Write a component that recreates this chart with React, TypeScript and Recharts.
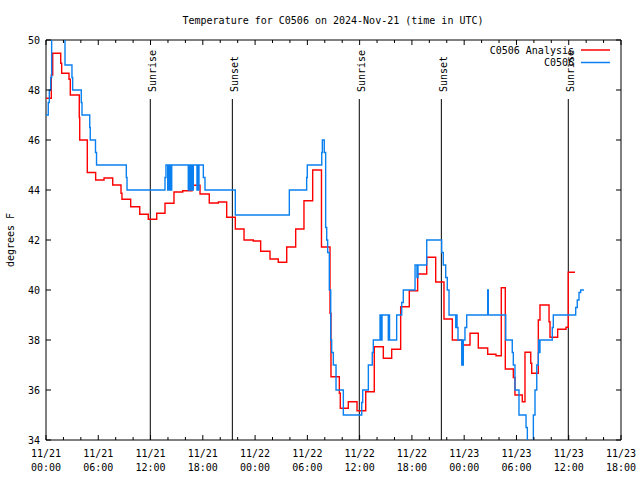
import React from 'react';
import { LineChart, Line, XAxis, YAxis, ReferenceLine, ReferenceArea, Legend } from 'recharts';

const FONT = "'DejaVu Sans Mono', 'Liberation Mono', monospace";

// Hours since 2024-11-21 00:00 UTC
const redHours = [0, 0.61, 0.77, 1.69, 1.8, 2.64, 2.79, 3.82, 3.87, 4.74, 5.7, 6.66, 7.66, 8.61, 8.72, 9.72, 10.76, 11.74, 12.71, 13.66, 14.69, 15.69, 16.76, 17.68, 18.74, 19.78, 20.74, 21.73, 22.73, 23.79, 24.64, 25.71, 26.66, 27.63, 28.66, 29.61, 30.61, 31.62, 32.6, 32.71, 33.67, 33.78, 34.7, 35.7, 36.7, 37.68, 38.72, 39.68, 40.71, 41.7, 42.66, 43.7, 44.73, 45.68, 46.64, 47.72, 48.67, 49.62, 50.7, 51.65, 52.26, 52.72, 53.64, 53.83, 54.67, 54.98, 55.64, 55.75, 56.51, 56.7, 57.74, 57.85, 58.73, 59.69, 59.95, 60.72];
const redTemps = [47.67, 48.6, 49.47, 49.07, 48.67, 48.43, 47.8, 46.9, 46.0, 44.7, 44.4, 44.48, 44.2, 43.87, 43.63, 43.33, 43.03, 42.83, 43.07, 43.47, 43.92, 43.97, 44.19, 43.84, 43.48, 43.52, 42.91, 42.44, 42.0, 41.96, 41.55, 41.24, 41.11, 41.72, 42.44, 43.57, 44.8, 41.72, 39.07, 36.53, 35.87, 35.27, 35.53, 35.17, 35.93, 37.73, 37.27, 37.63, 39.33, 39.97, 40.64, 41.31, 40.32, 38.84, 38.0, 37.8, 38.27, 37.68, 37.43, 37.37, 40.09, 36.84, 36.5, 35.8, 35.53, 37.51, 37.07, 36.67, 38.8, 39.4, 38.73, 38.11, 38.43, 38.51, 40.71, 40.71];

const blueHours = [0, 0.26, 0.38, 0.54, 0.65, 2.18, 2.98, 3.06, 4.05, 4.13, 5.02, 5.08, 5.68, 5.8, 9.22, 9.3, 13.66, 13.77, 13.97, 14.04, 14.15, 14.23, 14.35, 14.43, 16.33, 16.41, 16.53, 16.61, 16.68, 16.76, 16.84, 16.91, 17.33, 17.41, 17.48, 17.56, 18.06, 18.25, 21.73, 27.93, 29.92, 29.99, 31.65, 31.72, 31.94, 32.1, 32.22, 32.33, 32.52, 32.68, 32.79, 32.98, 33.29, 34.13, 36.24, 36.35, 37.0, 37.45, 37.57, 38.34, 38.45, 38.57, 39.29, 39.37, 39.43, 40.25, 40.83, 41.01, 42.36, 42.58, 42.7, 43.7, 45.42, 45.6, 45.88, 46.06, 46.26, 47.03, 47.1, 47.18, 47.29, 47.72, 47.79, 47.83, 47.9, 48.09, 48.29, 50.7, 50.77, 52.77, 53.52, 53.64, 53.83, 54.29, 55.1, 55.25, 55.94, 56.13, 56.33, 56.51, 56.55, 56.61, 56.7, 58.11, 58.23, 60.8, 60.98, 61.18, 61.37, 61.75];
const blueTemps = [47.0, 47.5, 48.0, 48.5, 50.5, 49.0, 48.5, 48.0, 47.5, 47.0, 46.5, 46.0, 45.5, 45.0, 44.5, 44.0, 44.5, 45.0, 44.0, 45.0, 44.0, 45.0, 44.0, 45.0, 44.0, 45.0, 44.0, 45.0, 44.0, 45.0, 44.0, 45.0, 44.0, 45.0, 44.0, 45.0, 44.5, 44.0, 43.0, 44.0, 44.5, 45.0, 45.5, 46.0, 45.5, 42.5, 42.0, 41.5, 40.0, 38.0, 37.5, 37.0, 36.0, 35.0, 35.5, 36.0, 37.0, 37.5, 38.0, 39.0, 38.0, 39.0, 38.0, 39.0, 38.0, 39.0, 39.5, 40.0, 41.0, 40.5, 41.0, 42.0, 41.5, 41.0, 40.5, 40.0, 39.0, 38.5, 39.0, 38.5, 38.0, 37.0, 38.0, 37.0, 38.0, 38.5, 39.0, 40.0, 39.0, 38.0, 37.5, 37.0, 36.0, 35.0, 34.5, 33.5, 35.0, 36.0, 37.0, 37.5, 38.0, 37.5, 38.0, 38.5, 39.0, 39.3, 39.6, 39.9, 40.0, 40.0];

const seriesNames = ['C0506 Analysis', 'C0506'];

const sunriseHours = [11.97, 35.96, 59.95];
const sunsetHours = [21.39, 45.38];

const xTickHours = [0, 2, 4, 6, 8, 10, 12, 14, 16, 18, 20, 22, 24, 26, 28, 30, 32, 34, 36, 38, 40, 42, 44, 46, 48, 50, 52, 54, 56, 58, 60, 62, 64, 66];
const xMajorHours = [0, 6, 12, 18, 24, 30, 36, 42, 48, 54, 60, 66];
const xMajorDates = ['11/21', '11/21', '11/21', '11/21', '11/22', '11/22', '11/22', '11/22', '11/23', '11/23', '11/23', '11/23'];
const xMajorTimes = ['00:00', '06:00', '12:00', '18:00', '00:00', '06:00', '12:00', '18:00', '00:00', '06:00', '12:00', '18:00'];
const yTicks = [34, 36, 38, 40, 42, 44, 46, 48, 50];

const redData = redHours.map((t, i) => ({ t, v: redTemps[i] }));
const blueData = blueHours.map((t, i) => ({ t, v: blueTemps[i] }));

const W = 640;
const H = 480;
const PLOT_LEFT = 46;
const PLOT_TOP = 40;
const PLOT_RIGHT = 621;
const PLOT_BOTTOM = 440;
const LABEL_TOP_TEMP = 47.64;

const XTick = (props: any) => {
  const { x, payload } = props;
  const v = payload.value;
  const idx = xMajorHours.indexOf(v);
  const major = idx >= 0;
  const len = major ? 5 : 3;
  return (
    <g>
      <line x1={x} x2={x} y1={PLOT_BOTTOM} y2={PLOT_BOTTOM - len} stroke="#000" strokeWidth={1} />
      <line x1={x} x2={x} y1={PLOT_TOP} y2={PLOT_TOP + len} stroke="#000" strokeWidth={1} />
      {major && (
        <text x={x} y={457} textAnchor="middle" fontFamily={FONT} fontSize={10} fill="#000">
          {xMajorDates[idx]}
        </text>
      )}
      {major && (
        <text x={x} y={471} textAnchor="middle" fontFamily={FONT} fontSize={10} fill="#000">
          {xMajorTimes[idx]}
        </text>
      )}
    </g>
  );
};

const YTick = (props: any) => {
  const { y, payload } = props;
  return (
    <g>
      <line x1={PLOT_LEFT} x2={PLOT_LEFT + 5} y1={y} y2={y} stroke="#000" strokeWidth={1} />
      <line x1={PLOT_RIGHT} x2={PLOT_RIGHT - 5} y1={y} y2={y} stroke="#000" strokeWidth={1} />
      <text x={40} y={y + 3.5} textAnchor="end" fontFamily={FONT} fontSize={10} fill="#000">
        {payload.value}
      </text>
    </g>
  );
};

const makeLabel = (text: string) => (p: any) => {
  const vb = p.viewBox || {};
  const lx = vb.x + 5.5;
  const ly = vb.y - 7;
  return (
    <text
      x={lx}
      y={ly}
      transform={`rotate(-90 ${lx} ${ly})`}
      textAnchor="start"
      fontFamily={FONT}
      fontSize={10}
      fill="#000"
    >
      {text}
    </text>
  );
};

const renderLegend = (props: any) => {
  const payload = [...(props.payload || [])].sort(
    (a: any, b: any) => seriesNames.indexOf(a.value) - seriesNames.indexOf(b.value)
  );
  return (
    <svg width={170} height={30} style={{ display: 'block', overflow: 'visible' }}>
      {payload.map((entry: any, i: number) => (
        <g key={i}>
          <text x={114} y={11.5 + i * 12.5} textAnchor="end" fontFamily={FONT} fontSize={10} fill="#000">
            {entry.value}
          </text>
          <line x1={121} x2={150} y1={8 + i * 12.5} y2={8 + i * 12.5} stroke={entry.color} strokeWidth={1.5} />
        </g>
      ))}
    </svg>
  );
};

export default function App() {
  return (
    <div style={{ position: 'absolute', left: 0, top: 0, width: W, height: H, background: '#fff' }}>
      <LineChart
        width={W}
        height={H}
        margin={{ top: PLOT_TOP, right: W - PLOT_RIGHT, bottom: 0, left: 0 }}
      >
        <XAxis
          type="number"
          dataKey="t"
          domain={[0, 66]}
          ticks={xTickHours}
          interval={0}
          allowDataOverflow
          height={H - PLOT_BOTTOM}
          axisLine={false}
          tickLine={false}
          tick={<XTick />}
        />
        <YAxis
          type="number"
          domain={[34, 50]}
          ticks={yTicks}
          interval={0}
          allowDataOverflow
          width={PLOT_LEFT}
          axisLine={false}
          tickLine={false}
          tick={<YTick />}
        />
        <ReferenceArea x1={0} x2={66} y1={34} y2={50} fill="none" stroke="#000" strokeWidth={1} fillOpacity={0} />
        {sunriseHours.map((h, i) => (
          <ReferenceLine
            key={'sr' + i}
            segment={[{ x: h, y: 34 }, { x: h, y: LABEL_TOP_TEMP }]}
            stroke="#000"
            strokeWidth={1}
            label={makeLabel('Sunrise')}
          />
        ))}
        {sunsetHours.map((h, i) => (
          <ReferenceLine
            key={'ss' + i}
            segment={[{ x: h, y: 34 }, { x: h, y: LABEL_TOP_TEMP }]}
            stroke="#000"
            strokeWidth={1}
            label={makeLabel('Sunset')}
          />
        ))}
        <Line
          data={redData}
          dataKey="v"
          name={seriesNames[0]}
          type="stepAfter"
          stroke="#ff0000"
          strokeWidth={1.4}
          dot={false}
          activeDot={false}
          isAnimationActive={false}
        />
        <Line
          data={blueData}
          dataKey="v"
          name={seriesNames[1]}
          type="stepAfter"
          stroke="#0a80f0"
          strokeWidth={1.4}
          dot={false}
          activeDot={false}
          isAnimationActive={false}
        />
        <Legend
          layout="vertical"
          align="center"
          verticalAlign="middle"
          content={renderLegend}
          wrapperStyle={{ position: 'absolute', left: 460, top: 42, width: 170, height: 30 }}
        />
      </LineChart>
      <svg
        width={W}
        height={H}
        style={{ position: 'absolute', left: 0, top: 0, pointerEvents: 'none' }}
      >
        <text x={333} y={24} textAnchor="middle" fontFamily={FONT} fontSize={10} fill="#000">
          Temperature for C0506 on 2024-Nov-21 (time in UTC)
        </text>
        <text
          x={14}
          y={240}
          transform="rotate(-90 14 240)"
          textAnchor="middle"
          fontFamily={FONT}
          fontSize={10}
          fill="#000"
        >
          degrees F
        </text>
      </svg>
    </div>
  );
}
